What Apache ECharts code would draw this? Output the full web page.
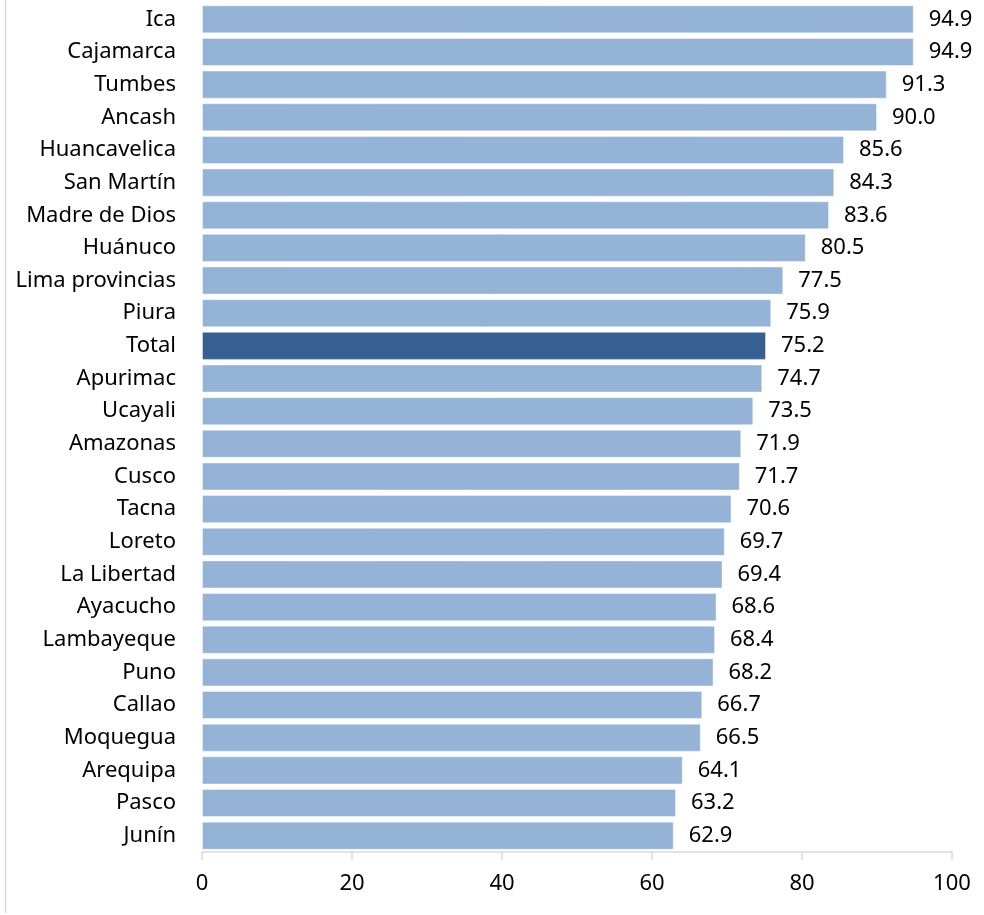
<!DOCTYPE html>
<html>
<head>
<meta charset="utf-8">
<script src="https://cdn.jsdelivr.net/npm/echarts@6/dist/echarts.min.js"></script>
<style>
html,body{margin:0;padding:0;background:#fff;}
#chart{width:984px;height:915px;}
</style>
</head>
<body>
<div id="chart"></div>
<script>
const categories = ["Ica","Cajamarca","Tumbes","Ancash","Huancavelica","San Martín","Madre de Dios","Huánuco","Lima provincias","Piura","Total","Apurimac","Ucayali","Amazonas","Cusco","Tacna","Loreto","La Libertad","Ayacucho","Lambayeque","Puno","Callao","Moquegua","Arequipa","Pasco","Junín"];
const values = [94.9,94.9,91.3,90.0,85.6,84.3,83.6,80.5,77.5,75.9,75.2,74.7,73.5,71.9,71.7,70.6,69.7,69.4,68.6,68.4,68.2,66.7,66.5,64.1,63.2,62.9];
const highlight = "Total";
const xTicks = {min:0, max:100, interval:20};

const chart = echarts.init(document.getElementById('chart'));
const font = "'Noto Sans', 'Open Sans', sans-serif";
chart.setOption({
  animation:false,
  graphic:[{type:'line', shape:{x1:5.5,y1:0,x2:5.5,y2:913}, style:{stroke:'#d9d9d9', lineWidth:1.5}}],
  grid:{left:202, right:32, top:3, bottom:63},
  xAxis:{type:'value', min:xTicks.min, max:xTicks.max, interval:xTicks.interval,
    axisLine:{show:true, lineStyle:{color:'#d9d9d9', width:1.5}},
    axisTick:{show:true, length:8, lineStyle:{color:'#d9d9d9', width:1.5}},
    splitLine:{show:false},
    axisLabel:{color:'#000', fontSize:22, fontFamily:font, margin:21}},
  yAxis:{type:'category', data:categories, inverse:true,
    axisLine:{show:false}, axisTick:{show:false},
    axisLabel:{color:'#000', fontSize:22, fontFamily:font, margin:26}},
  series:[{type:'bar', barCategoryGap:'14%',
    data: values.map((v,i)=>({value:v, itemStyle:{color: categories[i]===highlight ? '#366092' : '#95b3d7'}})),
    itemStyle:{borderColor:'rgba(255,255,255,0.4)', borderWidth:1},
    label:{show:true, position:'right', distance:15, color:'#000', fontSize:22, fontFamily:font,
      formatter:p=>p.value.toFixed(1)}}]
});
</script>
</body>
</html>
